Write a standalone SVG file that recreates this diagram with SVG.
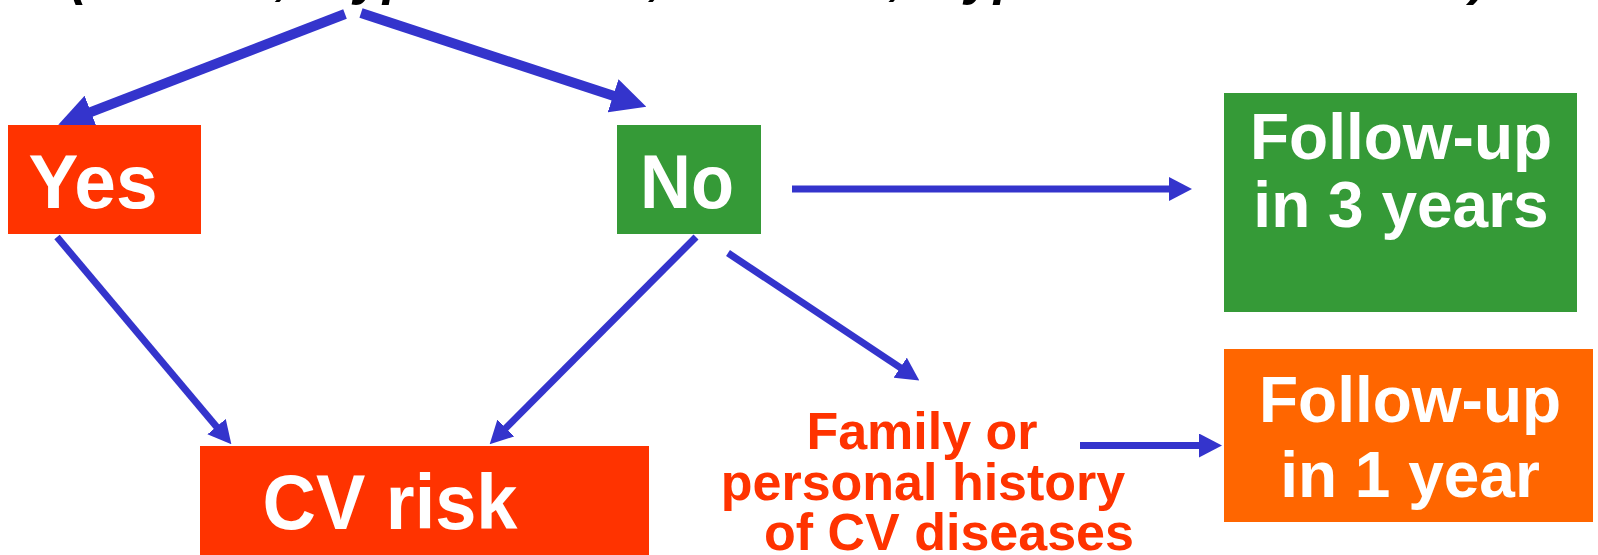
<svg xmlns="http://www.w3.org/2000/svg" width="1598" height="555" viewBox="0 0 1598 555">
  <style>
    .lbl { font-family: "Liberation Sans", Arial, sans-serif; font-weight: bold; fill: #FFFFFF; text-anchor: middle; }
    .red { font-family: "Liberation Sans", Arial, sans-serif; font-weight: bold; fill: #FF3300; text-anchor: middle; font-size: 52px; }
    .top { font-family: "Liberation Sans", Arial, sans-serif; font-weight: bold; font-style: italic; fill: #000000; font-size: 52px; }
    .thick { stroke: #3434CC; stroke-width: 10; fill: none; marker-end: url(#bigHead); }
    .thin { stroke: #3434CC; stroke-width: 7; fill: none; marker-end: url(#smallHead); }
  </style>
  <defs>
    <marker id="bigHead" viewBox="0 0 35 35" markerWidth="35" markerHeight="35" refX="1" refY="17.5" orient="auto" markerUnits="userSpaceOnUse">
      <path d="M0,0 L35,17.5 L0,35 Z" fill="#3434CC"/>
    </marker>
    <marker id="smallHead" viewBox="0 0 23 24" markerWidth="23" markerHeight="24" refX="1" refY="12" orient="auto" markerUnits="userSpaceOnUse">
      <path d="M0,0 L23,12 L0,24 Z" fill="#3434CC"/>
    </marker>
  </defs>

  <rect width="1598" height="555" fill="#FFFFFF"/>

  <text class="top" y="-6"><tspan x="70">(Smoker,</tspan> <tspan x="322">hypertension,</tspan> <tspan x="678">diabetes,</tspan> <tspan x="933">hypercholesterolemia)</tspan></text>

  <g id="connectors">
    <line class="thick" x1="345" y1="14" x2="90" y2="112.4"/>
    <line class="thick" x1="361" y1="13" x2="614" y2="96.1"/>
    <line class="thin" x1="57" y1="237" x2="217.2" y2="427.4"/>
    <line class="thin" x1="696" y1="237" x2="505.2" y2="428.7"/>
    <line class="thin" x1="728" y1="253" x2="901" y2="368.2"/>
    <line class="thin" x1="792" y1="189" x2="1170" y2="189"/>
    <line class="thin" x1="1080" y1="445.5" x2="1200" y2="445.5"/>
  </g>

  <g id="yes">
    <rect x="8" y="125" width="193" height="109" fill="#FF3300"/>
    <text class="lbl" x="93" y="208" font-size="76" textLength="129" lengthAdjust="spacingAndGlyphs">Yes</text>
  </g>

  <g id="no">
    <rect x="617" y="125" width="144" height="109" fill="#359A37"/>
    <text class="lbl" x="687" y="208" font-size="76" textLength="94" lengthAdjust="spacingAndGlyphs">No</text>
  </g>

  <g id="cvrisk">
    <rect x="200" y="446" width="449" height="115" fill="#FF3300"/>
    <text class="lbl" x="390" y="529" font-size="77" textLength="255" lengthAdjust="spacingAndGlyphs">CV risk</text>
  </g>

  <g id="followup3">
    <rect x="1224" y="93" width="353" height="219" fill="#359A37"/>
    <text class="lbl" x="1401" y="159" font-size="64">Follow-up</text>
    <text class="lbl" x="1401" y="227" font-size="64">in 3 years</text>
  </g>

  <g id="history">
    <text class="red" x="922" y="449">Family or</text>
    <text class="red" x="923" y="500">personal history</text>
    <text class="red" x="949" y="550">of CV diseases</text>
  </g>

  <g id="followup1">
    <rect x="1224" y="349" width="369" height="173" fill="#FF6600"/>
    <text class="lbl" x="1410" y="422" font-size="64">Follow-up</text>
    <text class="lbl" x="1410" y="497" font-size="64">in 1 year</text>
  </g>
</svg>
